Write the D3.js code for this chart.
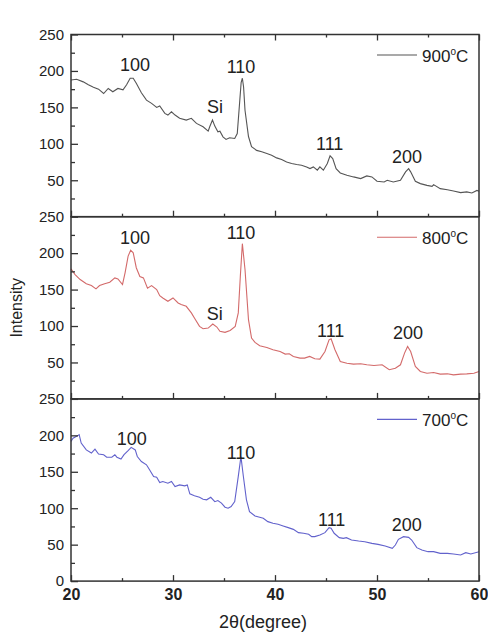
<!DOCTYPE html>
<head>
  <meta charset="utf-8">
  <script src="https://d3js.org/d3.v7.min.js"></script>
  <style>
    body { margin:0; background:#fff; }
    text { font-family: "Liberation Sans", Arial, sans-serif; fill:#222; }
  </style>
</head>
<body>
<script>

// 2theta (degree) and intensity
var theta900 = [20,20.55,21.2,21.7,22.2,22.7,23.2,23.65,24.1,24.6,25.1,25.45,25.8,26.1,26.4,26.9,27.4,27.9,28.4,28.7,29.2,29.5,29.85,30.2,30.65,31.3,31.8,32.3,32.95,33.45,33.6,33.87,34.1,34.4,34.6,34.9,35.2,35.55,36.05,36.3,36.55,36.68,36.8,36.92,37.06,37.4,37.7,38.2,38.7,39.2,39.67,40.16,40.65,41.14,41.63,42.12,42.6,43.1,43.43,43.76,44.15,44.4,44.74,45.13,45.4,45.66,45.99,46.4,47.05,47.7,48.4,49.0,49.5,50.0,50.7,51.0,51.6,52.3,52.8,53.1,53.3,53.76,54.25,54.9,55.4,55.55,56.2,56.9,57.5,58.2,58.8,59.3,59.8,60];
var int900   = [187.6,188.5,185,181,177.5,175,169,176,171.5,176,174,181,190,190,183,170,160,155.5,150,152,141.7,139.5,144,139.5,135,132.6,135,128,123.4,117.4,123.4,132.6,124.3,116.5,117.4,109.6,106,108.3,107.3,114,160,184,190,178,146,110,96,91,89,86.7,84.4,80.7,78.4,75,73,71.6,70.6,68.3,66,68.3,63.8,68.3,63.8,73,83.5,79.8,66,60,57,54.6,52.3,56,54.6,48.6,47.7,50,47.7,50,61.5,66,61.5,48.6,45.4,43,41.7,44,38.5,37,35.3,33,34,32.6,36,35];

var theta800 = [20,20.4,20.9,21.5,22.0,22.45,22.8,23.3,23.8,24.3,24.6,25.05,25.3,25.6,25.85,26.1,26.4,26.75,27.1,27.5,27.9,28.4,28.7,29.0,29.5,30.0,30.5,30.8,31.3,31.8,32.1,32.6,32.95,33.45,33.9,34.3,34.6,35.1,35.6,36.1,36.4,36.6,36.8,37.06,37.4,37.7,38.04,38.5,39.2,39.8,40.5,41.0,41.4,41.8,42.45,42.9,43.4,43.9,44.4,44.9,45.3,45.5,45.88,46.4,47.05,47.7,48.4,49.0,49.7,50.5,51.2,51.8,52.3,52.7,53.0,53.3,53.76,54.25,54.9,55.55,56.2,56.9,57.5,58.2,58.8,59.5,60];
var int800   = [178.4,170.6,163.8,158,155.5,151,155.5,158,160,166,164.7,157,173,196,204,200.5,180,168,166,152,155.5,150,141.7,138.5,134,138.5,131.6,129.4,127,118,111,99.5,96.3,97.2,102.7,98.6,92.7,91.3,94,99.5,118,168,213,177.5,108.7,83.5,77.5,73,70.6,67.4,65,61.5,62,58.3,56,56,58.3,55,54.6,65,81,82.5,67.4,51.4,49,47.7,48.2,46.8,45.9,46.8,40,42,46.8,62.8,72,65,44.5,37.6,35.3,36.2,34,34.4,33,34,34.4,35.3,37.6];

var theta700 = [20,20.2,20.55,20.8,21.0,21.5,22.0,22.35,22.7,23.2,23.5,24.0,24.3,24.5,24.9,25.2,25.6,25.9,26.3,26.5,26.9,27.4,27.7,28.1,28.4,28.7,29.0,29.5,29.85,30.2,30.65,31.15,31.4,31.65,32.1,32.6,32.95,33.3,33.7,34.1,34.4,34.75,35.1,35.4,35.7,36.05,36.4,36.66,36.9,37.2,37.5,38.04,38.5,38.85,39.3,39.8,40.3,40.8,41.3,41.8,42.3,42.8,43.3,43.6,43.9,44.4,44.9,45.3,45.5,45.8,46.3,46.7,47.0,47.5,48.2,48.8,49.5,50.1,50.8,51.5,51.8,52.1,52.6,53.1,53.4,53.9,54.4,55.0,55.55,56.2,56.9,57.5,58.2,58.7,59.2,60];
var int700   = [191.7,196,198.6,201,189.4,180,175.7,181,174.3,173.4,170,170,173.4,170,167.4,173.4,179,183.5,180,171,164,159.6,152.8,143.6,142.6,135.3,136.7,134.4,136.7,129.8,132,130.7,132,119.7,117,115,112.4,111.5,115,109,110.5,107,101.4,100,102.3,109,143.6,171,143.6,111.5,95.4,89.4,87.6,86.2,81.6,79.4,78,75.7,73.4,71,66.5,65.6,64.2,61,61,63.3,66.5,73.4,72.5,65.6,59.6,58.7,59.6,56.4,55,54,51.8,50.4,48.2,45,49.5,57.3,61,60,56.4,45.9,42.7,40.4,40.4,38,38,37.2,35.8,39,37.2,40.4];

// peak labels: text, 2theta, intensity of the text baseline
var peaks900 = ["100","Si","110","111","200"];
var peakX900 = [26.27,34.12,36.67,45.36,52.94];
var peakY900 = [200,142,197,91.5,73];
var peaks800 = ["100","Si","110","111","200"];
var peakX800 = [26.27,34.09,36.67,45.46,53.04];
var peakY800 = [213,108,219,85,82];
var peaks700 = ["100","110","111","200"];
var peakX700 = [25.95,36.67,45.56,52.91];
var peakY700 = [187,168,76,69];

var series = ["900","800","700"];
var colors = ["#555555","#d36a6a","#6262cc"];

var xTicks = [20,30,40,50,60];
var yTicks = [0,50,100,150,200,250];

var panels = [
  {name: series[0], color: colors[0], x: theta900, y: int900, lab: peaks900, lx: peakX900, ly: peakY900},
  {name: series[1], color: colors[1], x: theta800, y: int800, lab: peaks800, lx: peakX800, ly: peakY800},
  {name: series[2], color: colors[2], x: theta700, y: int700, lab: peaks700, lx: peakX700, ly: peakY700}
];

var width = 488, height = 637;
var left = 71, plotW = 408, top0 = 34.5, panelH = 182.2;

var svg = d3.select("body").append("svg")
  .attr("width", width)
  .attr("height", height);

var x = d3.scaleLinear().domain([20, 60]).range([0, plotW]);
var y = d3.scaleLinear().domain([0, 250]).range([panelH, 0]);

var line = d3.line()
  .x(function(d) { return x(d[0]); })
  .y(function(d) { return y(d[1]); });

var minorX = d3.range(25, 60, 10);
var minorY = d3.range(25, 250, 50);

panels.forEach(function(p, i) {
  var g = svg.append("g")
    .attr("transform", "translate(" + left + "," + (top0 + i * panelH) + ")");

  var pts = p.x.map(function(v, k) { return [v, p.y[k]]; });
  g.append("path")
    .datum(pts)
    .attr("d", line)
    .attr("fill", "none")
    .attr("stroke", p.color)
    .attr("stroke-width", 1.1);

  // frame
  g.append("rect")
    .attr("width", plotW)
    .attr("height", panelH)
    .attr("fill", "none")
    .attr("stroke", "#333")
    .attr("stroke-width", 1.5);

  // y axis, ticks inward
  var yAxis = d3.axisLeft(y)
    .tickValues(i == 2 ? yTicks : yTicks.slice(1))
    .tickSizeInner(-7).tickSizeOuter(0).tickPadding(7);
  var ya = g.append("g").call(yAxis);
  ya.select(".domain").remove();
  ya.selectAll("line").attr("stroke", "#333").attr("stroke-width", 1.3);
  ya.selectAll("text").style("font-size", "15px").attr("fill", "#222")
    .style("font-family", "'Liberation Sans', Arial, sans-serif");

  var ym = g.append("g").call(d3.axisLeft(y).tickValues(minorY).tickSizeInner(-4).tickSizeOuter(0).tickFormat(""));
  ym.select(".domain").remove();
  ym.selectAll("line").attr("stroke", "#333").attr("stroke-width", 1.3);

  // x axis at bottom of each panel
  var xa = g.append("g")
    .attr("transform", "translate(0," + panelH + ")")
    .call(d3.axisBottom(x).tickValues(xTicks).tickSizeInner(-6).tickSizeOuter(0).tickPadding(8)
      .tickFormat(i == 2 ? d3.format("d") : ""));
  xa.select(".domain").remove();
  xa.selectAll("line").attr("stroke", "#333").attr("stroke-width", 1.3);
  xa.selectAll("text").style("font-size", "16px").style("font-weight", "bold").attr("fill", "#111")
    .style("font-family", "'Liberation Sans', Arial, sans-serif");

  var xm = g.append("g")
    .attr("transform", "translate(0," + panelH + ")")
    .call(d3.axisBottom(x).tickValues(minorX).tickSizeInner(-3).tickSizeOuter(0).tickFormat(""));
  xm.select(".domain").remove();
  xm.selectAll("line").attr("stroke", "#333").attr("stroke-width", 1.3);

  if (i == 0) {
    var xt = g.append("g")
      .call(d3.axisTop(x).tickValues(xTicks).tickSizeInner(-6).tickSizeOuter(0).tickFormat(""));
    xt.select(".domain").remove();
    xt.selectAll("line").attr("stroke", "#333").attr("stroke-width", 1.3);
    var xtm = g.append("g")
      .call(d3.axisTop(x).tickValues(minorX).tickSizeInner(-3).tickSizeOuter(0).tickFormat(""));
    xtm.select(".domain").remove();
    xtm.selectAll("line").attr("stroke", "#333").attr("stroke-width", 1.3);
  }

  // peak labels
  g.selectAll(".peak")
    .data(p.lab)
    .enter().append("text")
    .attr("class", "peak")
    .attr("x", function(d, k) { return x(p.lx[k]); })
    .attr("y", function(d, k) { return y(p.ly[k]); })
    .attr("text-anchor", "middle")
    .style("font-size", "18px")
    .text(function(d) { return d; });

  // legend
  g.append("line")
    .attr("x1", 306).attr("x2", 346)
    .attr("y1", 20.5).attr("y2", 20.5)
    .attr("stroke", p.color)
    .attr("stroke-width", 1.1);
  var lt = g.append("text")
    .attr("x", 351).attr("y", 27.5)
    .style("font-size", "17px");
  lt.append("tspan").text(p.name);
  lt.append("tspan").attr("dy", -7).style("font-size", "10px").text("o");
  lt.append("tspan").attr("dy", 7).text("C");
});

// axis titles
svg.append("text")
  .attr("transform", "translate(22," + (top0 + 1.5 * panelH) + ") rotate(-90)")
  .attr("text-anchor", "middle")
  .style("font-size", "16px")
  .text("Intensity");

svg.append("text")
  .attr("x", 263).attr("y", 628)
  .attr("text-anchor", "middle")
  .style("font-size", "18px")
  .text("2θ(degree)");

</script>
</body>
